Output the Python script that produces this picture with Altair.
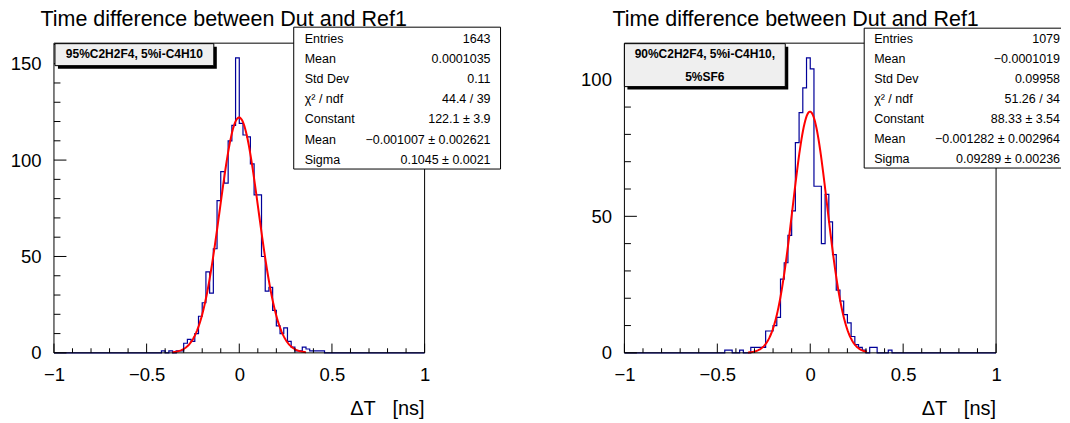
import altair as alt
import pandas as pd

FONT = "Liberation Sans"
HIST_COLOR = "#000099"
FIT_COLOR = "#ff0000"

# ---------------- data ----------------
BIN_WIDTH = 0.02
N_BINS = 100
X_MIN, X_MAX = -1.0, 1.0

# left histogram: contiguous bins starting at this lower edge
left_first_edge = -0.42
left_counts = [1, 0, 1, 0, 1, 1, 5, 7, 6, 10, 19, 26, 42, 31, 54, 79, 94, 88, 110, 118,
               153, 119, 113, 112, 98, 82, 82, 50, 32, 34, 22, 14, 10, 13, 6, 3, 1, 1, 3, 2,
               1, 1, 1, 1]
# right histogram
right_first_edge = -0.46
right_counts = [1, 1, 0, 0, 1, 0, 0, 2, 2, 2, 2, 8, 8, 10, 13, 27, 33, 43, 52, 77,
                88, 97, 108, 104, 61, 61, 40, 58, 48, 36, 23, 19, 14, 11, 6, 3, 2, 1, 0, 2,
                2, 0, 0, 0, 1]

# Gaussian fit parameters (from stat boxes) and drawn fit ranges
left_fit = [122.1, -0.001007, 0.1045]
right_fit = [88.33, -0.001282, 0.09289]
left_fit_range = [-0.36, 0.36]
right_fit_range = [-0.335, 0.305]

left_ymax = 160.65
right_ymax = 113.4

x_major = [-1, -0.5, 0, 0.5, 1]
x_minor = [-0.9, -0.8, -0.7, -0.6, -0.4, -0.3, -0.2, -0.1, 0.1, 0.2, 0.3, 0.4, 0.6, 0.7, 0.8, 0.9]
left_y_major = [0, 50, 100, 150]
left_y_minor = [10, 20, 30, 40, 60, 70, 80, 90, 110, 120, 130, 140, 160]
right_y_major = [0, 50, 100]
right_y_minor = [10, 20, 30, 40, 60, 70, 80, 90, 110]

stat_labels = ["Entries", "Mean", "Std Dev", "χ² / ndf", "Constant", "Mean", "Sigma"]
left_stat_values = ["1643", "0.0001035", "0.11", "44.4 / 39", "122.1 ± 3.9",
                    "−0.001007 ± 0.002621", "0.1045 ± 0.0021"]
right_stat_values = ["1079", "−0.0001019", "0.09958", "51.26 / 34", "88.33 ± 3.54",
                     "−0.001282 ± 0.002964", "0.09289 ± 0.00236"]

left_legend = ["95%C2H2F4, 5%i-C4H10"]
right_legend = ["90%C2H2F4, 5%i-C4H10,", "5%SF6"]

title_text = "Time difference between Dut and Ref1"
x_title_text = "ΔT\u00a0\u00a0\u00a0[ns]"

ONE = alt.Data(values=[{"k": 0}])


def hist_table(first_edge, counts):
    start = int(round((first_edge - X_MIN) / BIN_WIDTH))
    full = [0] * start + list(counts) + [0] * (N_BINS - start - len(counts))
    edges = [round(X_MIN + BIN_WIDTH * i, 4) for i in range(N_BINS + 1)]
    return pd.DataFrame({"x": edges, "n": full + [0]})


def vrect(x0, x1, y0, y1, **kw):
    return alt.Chart(ONE).mark_rect(**kw).encode(
        x=alt.value(x0), x2=alt.value(x1), y=alt.value(y0), y2=alt.value(y1))


def vrule(x0, x1, y0, y1, **kw):
    return alt.Chart(ONE).mark_rule(**kw).encode(
        x=alt.value(x0), x2=alt.value(x1), y=alt.value(y0), y2=alt.value(y1))


def vtext(txt, x, y, **kw):
    return alt.Chart(ONE).mark_text(text=txt, font=FONT, color="black", **kw).encode(
        x=alt.value(x), y=alt.value(y))


def panel(W, H, counts, first_edge, fit, fit_range, ymax, y_major, y_minor,
          stat_values, legend_lines, geo, anchor=False):
    xs = alt.Scale(domain=[X_MIN, X_MAX], nice=False, zero=False)
    ys = alt.Scale(domain=[0, ymax], nice=False, zero=False)
    xaxis = alt.Axis(values=x_major, format=".1~f", labelFlush=False, labelFont=FONT,
                     labelFontSize=18.5, labelColor="black", labelPadding=12.6,
                     labelBaseline="top", ticks=False, tickSize=0, domain=False,
                     grid=False, title=None, labelOverlap=False)
    yaxis = alt.Axis(values=y_major, format="d", labelFont=FONT, labelFontSize=18.5,
                     labelColor="black", labelPadding=13, ticks=False, tickSize=0,
                     domain=False, grid=False, title=None, labelOverlap=False)
    X = alt.X("x:Q", scale=xs, axis=xaxis)
    Y = alt.Y("n:Q", scale=ys, axis=yaxis)

    layers = []
    if anchor:
        layers.append(vrule(-46, -46, -35, -34, opacity=0, strokeWidth=0.01))
    layers.append(alt.Chart(hist_table(first_edge, counts)).mark_line(
        interpolate="step-after", color=HIST_COLOR, strokeWidth=1.2).encode(x=X, y=Y))
    C, m, s = fit
    layers.append(alt.Chart(alt.sequence(fit_range[0], fit_range[1] + 0.001, 0.004, as_="x"))
                  .transform_calculate(n=f"{C}*exp(-0.5*pow((datum.x-({m}))/{s},2))")
                  .mark_line(color=FIT_COLOR, strokeWidth=2).encode(x=X, y=Y))
    # frame
    layers.append(vrect(0, W, 0, H, fill="transparent", stroke="black", strokeWidth=1))
    # ticks (inside)
    layers.append(alt.Chart(pd.DataFrame({"x": x_major})).mark_rule(color="black", strokeWidth=1)
                  .encode(x=X, y=alt.value(H), y2=alt.value(H - 9.3)))
    layers.append(alt.Chart(pd.DataFrame({"x": x_minor})).mark_rule(color="black", strokeWidth=1)
                  .encode(x=X, y=alt.value(H), y2=alt.value(H - 4.6)))
    layers.append(alt.Chart(pd.DataFrame({"n": y_major})).mark_rule(color="black", strokeWidth=1)
                  .encode(y=Y, x=alt.value(0), x2=alt.value(12.5)))
    layers.append(alt.Chart(pd.DataFrame({"n": y_minor})).mark_rule(color="black", strokeWidth=1)
                  .encode(y=Y, x=alt.value(0), x2=alt.value(6.5)))

    # stat box
    bx0, bx1, by0, by1 = geo["stat"]
    layers.append(vrect(bx0, bx1, by0, by1, fill="white"))
    layers.append(vrule(bx0, bx1, by0, by0, color="black", strokeWidth=1))
    layers.append(vrule(bx0, bx1, by1, by1, color="black", strokeWidth=1))
    layers.append(vrule(bx0, bx0, by0, by1, color="black", strokeWidth=1))
    if geo["stat_right_border"]:
        layers.append(vrule(bx1, bx1, by0, by1, color="black", strokeWidth=1))
    sdf = pd.DataFrame({"label": stat_labels, "value": stat_values,
                        "row": list(range(len(stat_labels)))})
    r0, dr = geo["stat_rows"]
    base = alt.Chart(sdf).transform_calculate(py=f"{r0} + {dr}*datum.row")
    layers.append(base.mark_text(align="left", baseline="middle", font=FONT, fontSize=12.5,
                                 color="black")
                  .encode(x=alt.value(geo["stat_lab_x"]),
                          y=alt.Y("py:Q", scale=None, axis=None), text="label:N"))
    layers.append(base.mark_text(align="right", baseline="middle", font=FONT, fontSize=12.5,
                                 color="black")
                  .encode(x=alt.value(geo["stat_val_x"]),
                          y=alt.Y("py:Q", scale=None, axis=None), text="value:N"))

    # legend box with shadow
    lx0, lx1, ly0, ly1 = geo["legend"]
    layers.append(vrect(lx0 + 3, lx1 + 3, ly0 + 3, ly1 + 3, fill="black"))
    layers.append(vrect(lx0, lx1, ly0, ly1, fill="#efefef", stroke="black", strokeWidth=1))
    ldf = pd.DataFrame({"t": legend_lines, "row": list(range(len(legend_lines)))})
    l0, dl = geo["legend_rows"]
    layers.append(alt.Chart(ldf).transform_calculate(py=f"{l0} + {dl}*datum.row")
                  .mark_text(align="center", baseline="middle", font=FONT, fontSize=12,
                             fontWeight="bold", color="black")
                  .encode(x=alt.value((lx0 + lx1) / 2),
                          y=alt.Y("py:Q", scale=None, axis=None), text="t:N"))

    # title and x-axis title
    layers.append(vtext(title_text, geo["title_x"], -16.7, align="left",
                        baseline="alphabetic", fontSize=21.5))
    layers.append(vtext(x_title_text, W, 372.3, align="right", baseline="alphabetic",
                        fontSize=20))
    return alt.layer(*layers).properties(width=W, height=H)


H = 310
left = panel(371, H, left_counts, left_first_edge, left_fit, left_fit_range, left_ymax,
             left_y_major, left_y_minor, left_stat_values, left_legend,
             {"stat": (240, 447, -16, 126), "stat_right_border": True,
              "stat_rows": (-4.4, 20.2), "stat_lab_x": 251, "stat_val_x": 437,
              "legend": (1, 160, 0.5, 22.5), "legend_rows": (10.6, 23.4),
              "title_x": -13.5}, anchor=True)
right = panel(372, H, right_counts, right_first_edge, right_fit, right_fit_range, right_ymax,
              right_y_major, right_y_minor, right_stat_values, right_legend,
              {"stat": (240, 437, -15, 125), "stat_right_border": False,
               "stat_rows": (-4.4, 20.0), "stat_lab_x": 250, "stat_val_x": 436,
               "legend": (0, 161, 0.5, 43.5), "legend_rows": (10.6, 23.4),
               "title_x": -12})

chart = alt.hconcat(left, right, spacing=200, bounds="flush").properties(
    padding={"left": 0, "top": 0, "right": 0, "bottom": 0}
).configure_view(strokeWidth=0)

chart.save("out.html", embed_options={"renderer": "svg", "actions": False})
